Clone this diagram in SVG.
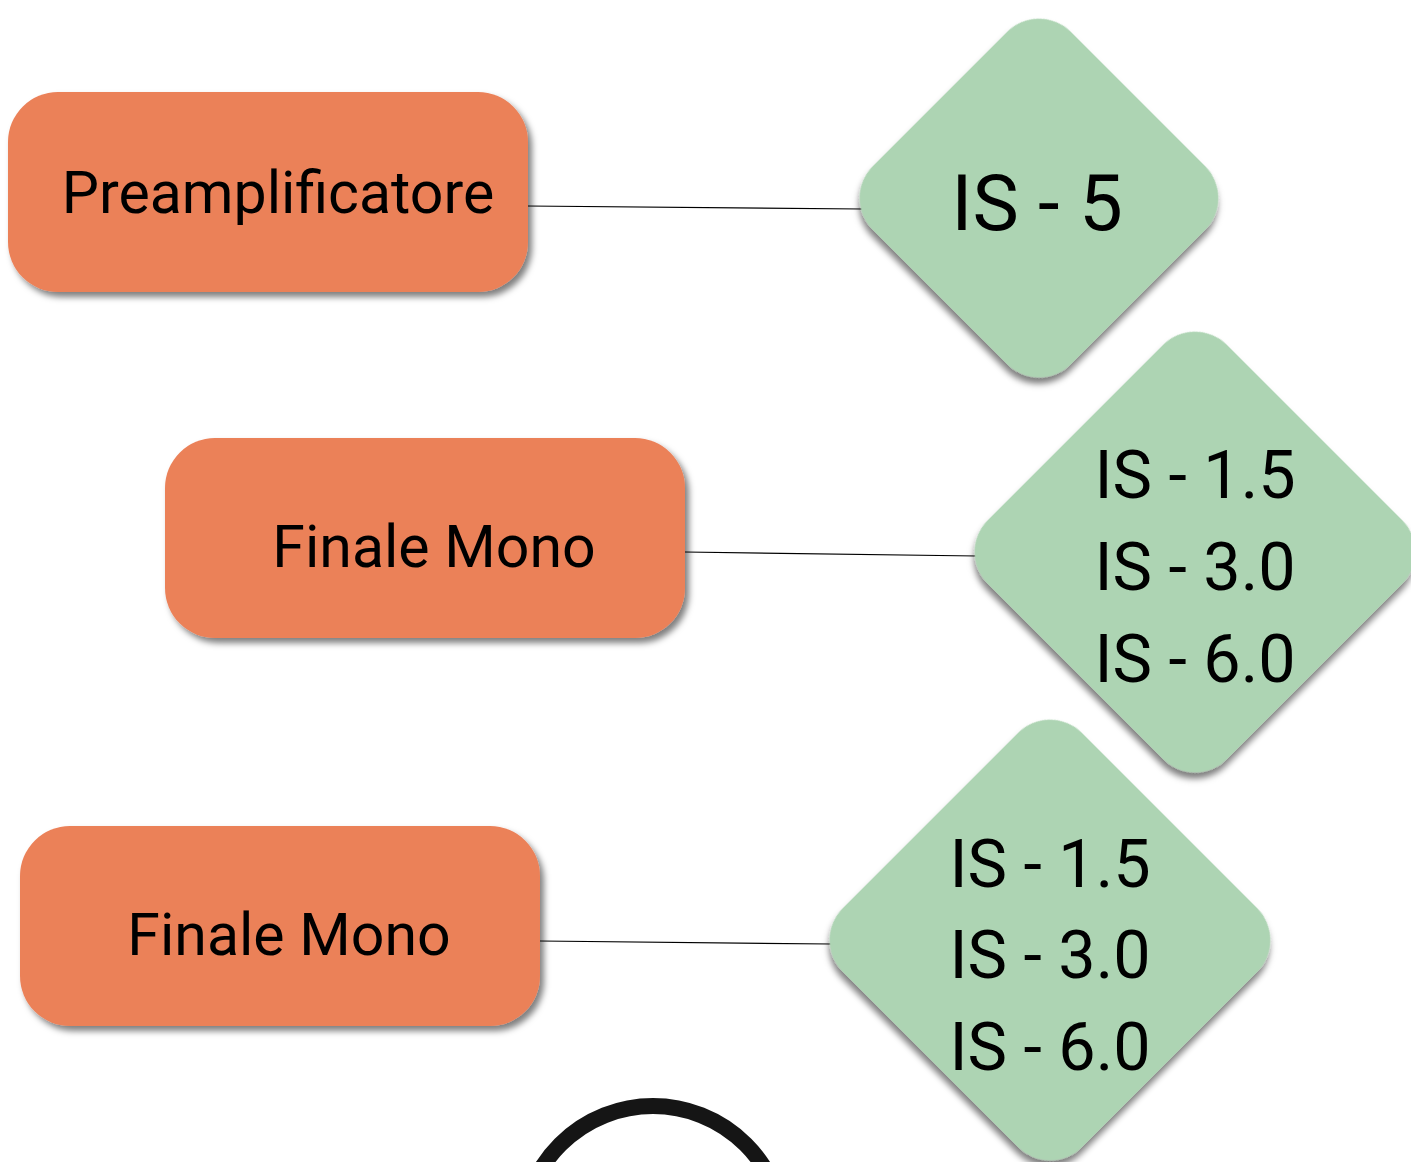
<svg xmlns="http://www.w3.org/2000/svg" width="1411" height="1162" viewBox="0 0 1411 1162">
<defs>
<filter id="sh" x="-20%" y="-20%" width="140%" height="140%">
<feDropShadow dx="4" dy="5" stdDeviation="3" flood-color="#000" flood-opacity="0.5"/>
</filter>
</defs>
<style>
.box{fill:#EB8159;filter:url(#sh)}
.dia{fill:#ADD4B3;filter:url(#sh)}
.lbl{font-family:Roboto,"Liberation Sans",sans-serif;fill:#000;text-anchor:middle}
.conn{stroke:#000;stroke-width:1.2;fill:none}
</style>
<rect width="1411" height="1162" fill="#fff"/>
<g id="connectors">
<line class="conn" x1="527" y1="206" x2="862" y2="209"/>
<line class="conn" x1="685" y1="552" x2="977" y2="556"/>
<line class="conn" x1="540" y1="941" x2="831" y2="944"/>
</g>
<g id="node-preamp">
<rect class="box" x="8" y="92" width="520" height="200" rx="50"/>
<text class="lbl" x="278" y="213" font-size="59">Preamplificatore</text>
</g>
<g id="node-is5">
<rect class="dia" x="-140" y="-140" width="280" height="280" rx="45" transform="translate(1039 198) rotate(45)"/>
<text class="lbl" x="1037" y="230" font-size="78">IS - 5</text>
</g>
<g id="node-finale1">
<rect class="box" x="165" y="438" width="520" height="200" rx="50"/>
<text class="lbl" x="434" y="567" font-size="59">Finale Mono</text>
</g>
<g id="node-is-multi1">
<rect class="dia" x="-169" y="-169" width="338" height="338" rx="45" transform="translate(1195 552) rotate(45)"/>
<text class="lbl" x="1195" y="498" font-size="66.5">IS - 1.5</text>
<text class="lbl" x="1195" y="590" font-size="66.5">IS - 3.0</text>
<text class="lbl" x="1195" y="682" font-size="66.5">IS - 6.0</text>
</g>
<g id="node-finale2">
<rect class="box" x="20" y="826" width="520" height="200" rx="50"/>
<text class="lbl" x="289" y="955" font-size="59">Finale Mono</text>
</g>
<g id="node-is-multi2">
<rect class="dia" x="-169" y="-169" width="338" height="338" rx="45" transform="translate(1050 940) rotate(45)"/>
<text class="lbl" x="1050" y="887" font-size="66.5">IS - 1.5</text>
<text class="lbl" x="1050" y="978" font-size="66.5">IS - 3.0</text>
<text class="lbl" x="1050" y="1070" font-size="66.5">IS - 6.0</text>
</g>
<g id="node-circle">
<circle cx="653" cy="1237" r="131" fill="none" stroke="#151515" stroke-width="16"/>
</g>
</svg>
